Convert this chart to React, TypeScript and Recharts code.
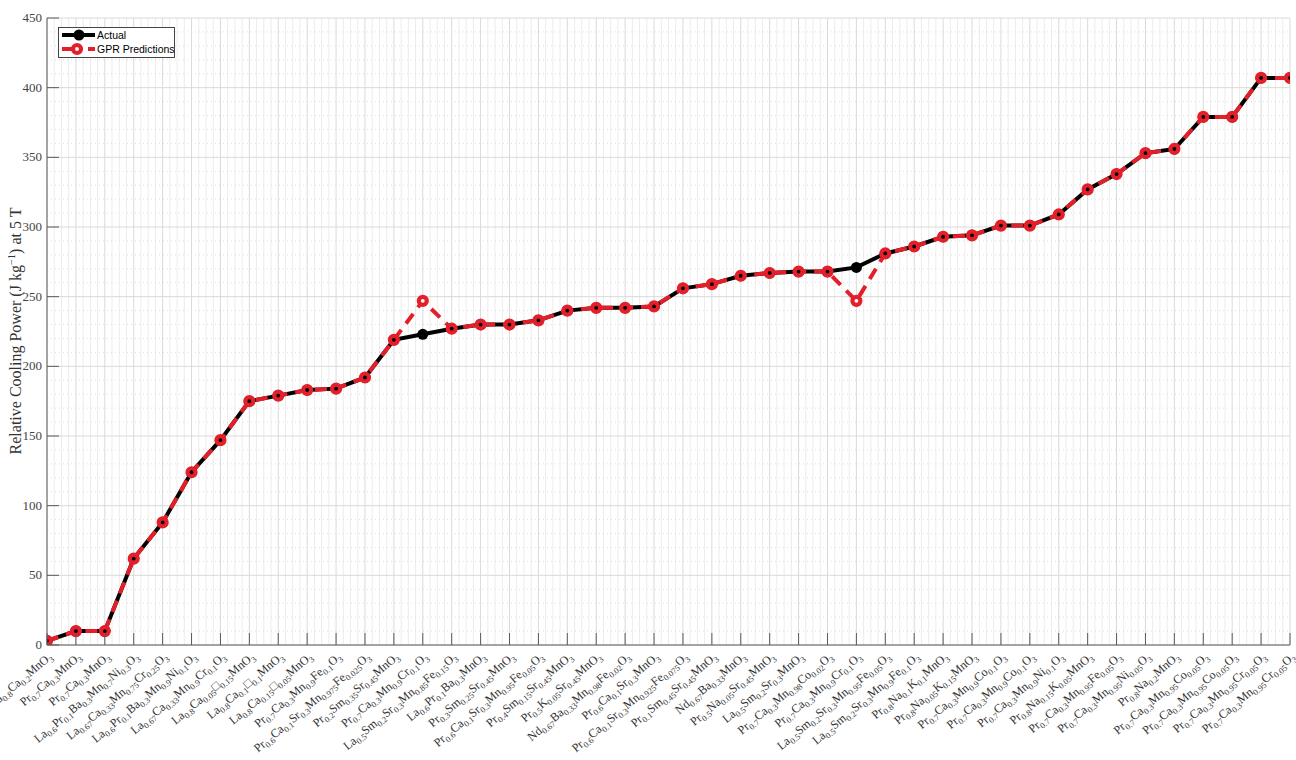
import React from 'react';
import { LineChart, Line, XAxis, YAxis, CartesianGrid } from 'recharts';

const categories: string[] = [
  'La0.8Ca0.2MnO3', 'Pr0.7Ca0.3MnO3', 'Pr0.7Ca0.3MnO3', 'La0.6Pr0.1Ba0.3Mn0.7Ni0.3O3',
  'La0.67Ca0.33Mn0.75Cr0.25O3', 'La0.6Pr0.1Ba0.3Mn0.9Ni0.1O3', 'La0.67Ca0.33Mn0.9Cr0.1O3',
  'La0.8Ca0.05□0.15MnO3', 'La0.8Ca0.1□0.1MnO3', 'La0.8Ca0.15□0.05MnO3', 'Pr0.7Ca0.3Mn0.9Fe0.1O3',
  'Pr0.6Ca0.1Sr0.3Mn0.975Fe0.025O3', 'Pr0.2Sm0.35Sr0.45MnO3', 'Pr0.7Ca0.3Mn0.9Cr0.1O3',
  'La0.5Sm0.2Sr0.3Mn0.85Fe0.15O3', 'La0.6Pr0.1Ba0.3MnO3', 'Pr0.3Sm0.25Sr0.45MnO3',
  'Pr0.6Ca0.1Sr0.3Mn0.95Fe0.05O3', 'Pr0.4Sm0.15Sr0.45MnO3', 'Pr0.5K0.05Sr0.45MnO3',
  'Nd0.67Ba0.33Mn0.98Fe0.02O3', 'Pr0.6Ca0.1Sr0.3MnO3', 'Pr0.6Ca0.1Sr0.3Mn0.925Fe0.075O3',
  'Pr0.1Sm0.45Sr0.45MnO3', 'Nd0.67Ba0.33MnO3', 'Pr0.5Na0.05Sr0.45MnO3', 'La0.5Sm0.2Sr0.3MnO3',
  'Pr0.7Ca0.3Mn0.98Co0.02O3', 'Pr0.7Ca0.3Mn0.9Cr0.1O3', 'La0.5Sm0.2Sr0.3Mn0.95Fe0.05O3',
  'La0.5Sm0.2Sr0.3Mn0.9Fe0.1O3', 'Pr0.8Na0.1K0.1MnO3', 'Pr0.8Na0.05K0.15MnO3',
  'Pr0.7Ca0.3Mn0.9Co0.1O3', 'Pr0.7Ca0.3Mn0.9Co0.1O3', 'Pr0.7Ca0.3Mn0.9Ni0.1O3',
  'Pr0.8Na0.15K0.05MnO3', 'Pr0.7Ca0.3Mn0.95Fe0.05O3', 'Pr0.7Ca0.3Mn0.95Ni0.05O3',
  'Pr0.8Na0.2MnO3', 'Pr0.7Ca0.3Mn0.95Co0.05O3', 'Pr0.7Ca0.3Mn0.95Co0.05O3',
  'Pr0.7Ca0.3Mn0.95Cr0.05O3', 'Pr0.7Ca0.3Mn0.95Cr0.05O3',
];

const actualValues: number[] = [
  3, 10, 10, 62, 88, 124, 147, 175, 179, 183, 184, 192, 219, 223, 227, 230, 230, 233, 240, 242,
  242, 243, 256, 259, 265, 267, 268, 268, 271, 281, 286, 293, 294, 301, 301, 309, 327, 338, 353, 356,
  379, 379, 407, 407,
];

const gprValues: number[] = [
  3, 10, 10, 62, 88, 124, 147, 175, 179, 183, 184, 192, 219, 247, 227, 230, 230, 233, 240, 242,
  242, 243, 256, 259, 265, 267, 268, 268, 247, 281, 286, 293, 294, 301, 301, 309, 327, 338, 353, 356,
  379, 379, 407, 407,
];

const yTicks: number[] = [0, 50, 100, 150, 200, 250, 300, 350, 400, 450];

const data = categories.map((c, i) => ({
  idx: i + 1,
  name: c,
  actual: actualValues[i],
  gpr: gprValues[i],
}));

const xTicks = data.map((d) => d.idx);
const xMinor: number[] = [];
for (let i = 1; i < categories.length; i++) {
  xMinor.push(i + 0.25, i + 0.5, i + 0.75);
}
const yMinor: number[] = [];
for (let v = 10; v < 450; v += 10) if (v % 50 !== 0) yMinor.push(v);

const RED = '#e3202a';
const AXIS = '#5a5a5a';
const SERIF = '"Liberation Serif", "DejaVu Serif", serif';
const SANS = '"Liberation Sans", Arial, sans-serif';
const TICK_LEN = 12;

function renderFormula(label: string) {
  const re = /(□|[A-Z][a-z]?)([0-9.]*)/g;
  const parts: React.ReactNode[] = [];
  let m: RegExpExecArray | null;
  let k = 0;
  let lowered = false;
  while ((m = re.exec(label)) !== null) {
    parts.push(
      <tspan key={k++} fontSize={12.2} dy={lowered ? -3 : 0}>
        {m[1]}
      </tspan>
    );
    lowered = false;
    if (m[2]) {
      parts.push(
        <tspan key={k++} fontSize={8.5} dy={3}>
          {m[2]}
        </tspan>
      );
      lowered = true;
    }
  }
  return parts;
}

const BottomTick = (props: any) => {
  const { x, y, payload } = props;
  const label = categories[payload.value - 1] || '';
  return (
    <g>
      <line x1={x} x2={x} y1={y} y2={y - TICK_LEN} stroke={AXIS} strokeWidth={1} />
      <text
        transform={`translate(${x + 6},${y + 13}) rotate(-40)`}
        textAnchor="end"
        fontFamily={SERIF}
        fill="#333"
      >
        {renderFormula(label)}
      </text>
    </g>
  );
};

const TopTick = (props: any) => {
  const { x, y } = props;
  return <line x1={x} x2={x} y1={y} y2={y + TICK_LEN} stroke={AXIS} strokeWidth={1} />;
};

const LeftTick = (props: any) => {
  const { x, y, payload } = props;
  return (
    <g>
      <line x1={x} x2={x + TICK_LEN} y1={y} y2={y} stroke={AXIS} strokeWidth={1} />
      <text x={x - 5} y={y + 4} textAnchor="end" fontFamily={SERIF} fontSize={13} fill="#444">
        {payload.value}
      </text>
    </g>
  );
};

const RightTick = (props: any) => {
  const { x, y } = props;
  return <line x1={x} x2={x - TICK_LEN} y1={y} y2={y} stroke={AXIS} strokeWidth={1} />;
};

const ActualDot = (props: any) => {
  const { cx, cy, index } = props;
  if (cx == null || cy == null) return <g key={`a${index}`} />;
  return <circle key={`a${index}`} cx={cx} cy={cy} r={5.5} fill="#000" />;
};

const GprDot = (props: any) => {
  const { cx, cy, index, payload } = props;
  if (cx == null || cy == null) return <g key={`g${index}`} />;
  const differs = payload.gpr !== payload.actual;
  return (
    <circle
      key={`g${index}`}
      cx={cx}
      cy={cy}
      r={4}
      fill={differs ? '#fff' : 'none'}
      stroke={RED}
      strokeWidth={4.2}
    />
  );
};

export default function App() {
  return (
    <div style={{ position: 'absolute', left: 0, top: 0, width: 1296, height: 760, background: '#fff' }}>
      <LineChart
        width={1296}
        height={760}
        data={data}
        margin={{ top: 18, right: 6, left: 17, bottom: 0 }}
      >
        <CartesianGrid
          horizontal={false}
          verticalValues={xMinor}
          stroke="#ececec"
          strokeWidth={1}
        />
        <CartesianGrid
          vertical={false}
          horizontalValues={yMinor}
          stroke="#dedede"
          strokeDasharray="1 3"
          strokeWidth={1}
        />
        <CartesianGrid
          horizontalValues={yTicks}
          verticalValues={xTicks}
          stroke="#dadada"
          strokeWidth={1}
        />
        <XAxis
          dataKey="idx"
          type="number"
          domain={[1, 44]}
          ticks={xTicks}
          interval={0}
          height={115}
          tickSize={0}
          tickMargin={0}
          tickLine={false}
          axisLine={{ stroke: AXIS }}
          tick={<BottomTick />}
          allowDataOverflow
        />
        <XAxis
          xAxisId="top"
          orientation="top"
          dataKey="idx"
          type="number"
          domain={[1, 44]}
          ticks={xTicks}
          interval={0}
          height={0}
          tickSize={0}
          tickMargin={0}
          tickLine={false}
          axisLine={{ stroke: AXIS }}
          tick={<TopTick />}
          allowDataOverflow
        />
        <YAxis
          type="number"
          domain={[0, 450]}
          ticks={yTicks}
          interval={0}
          width={30}
          tickSize={0}
          tickMargin={0}
          tickLine={false}
          axisLine={{ stroke: AXIS }}
          tick={<LeftTick />}
          allowDataOverflow
        />
        <YAxis
          yAxisId="right"
          orientation="right"
          type="number"
          domain={[0, 450]}
          ticks={yTicks}
          interval={0}
          width={0}
          tickSize={0}
          tickMargin={0}
          tickLine={false}
          axisLine={{ stroke: AXIS }}
          tick={<RightTick />}
          allowDataOverflow
        />
        <Line
          dataKey="actual"
          stroke="#000"
          strokeWidth={4}
          dot={<ActualDot />}
          activeDot={false}
          isAnimationActive={false}
        />
        <Line
          dataKey="gpr"
          stroke={RED}
          strokeWidth={4}
          strokeDasharray="12 8"
          dot={<GprDot />}
          activeDot={false}
          isAnimationActive={false}
        />
      </LineChart>
      <svg
        width={1296}
        height={760}
        style={{ position: 'absolute', left: 0, top: 0, pointerEvents: 'none' }}
      >
        <text
          transform="translate(21,331) rotate(-90)"
          textAnchor="middle"
          fontFamily={SERIF}
          fontSize={16}
          fill="#333"
        >
          Relative Cooling Power (J kg
          <tspan fontSize={10.5} dy={-6}>−1</tspan>
          <tspan dy={6}>) at 5 T</tspan>
        </text>
        <g>
          <rect x={58.5} y={27.5} width={116} height={30} fill="#fff" stroke="#444" strokeWidth={1} />
          <line x1={62} x2={95} y1={35} y2={35} stroke="#000" strokeWidth={4} />
          <circle cx={79} cy={35} r={5.5} fill="#000" />
          <text x={97} y={39} fontFamily={SANS} fontSize={10.5} fill="#000">Actual</text>
          <line x1={62} x2={95} y1={49} y2={49} stroke={RED} strokeWidth={4} strokeDasharray="20 6 8 0" />
          <circle cx={77} cy={49} r={4} fill="#fff" stroke={RED} strokeWidth={4.2} />
          <text x={97} y={53} fontFamily={SANS} fontSize={10.5} fill="#000">GPR Predictions</text>
        </g>
      </svg>
    </div>
  );
}
